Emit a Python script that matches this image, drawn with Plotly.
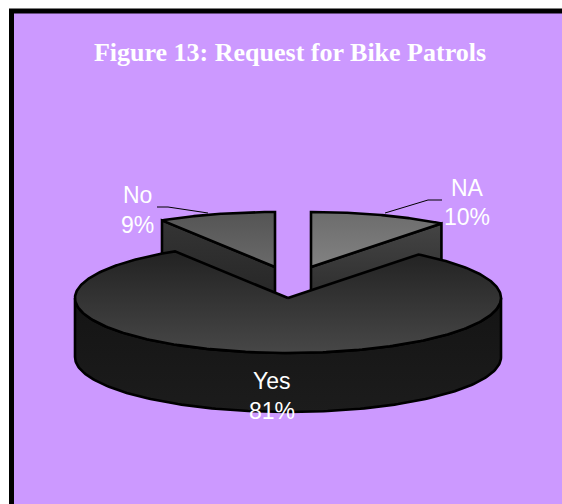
import numpy as np
import plotly.graph_objects as go

# Data
categories = ["NA", "Yes", "No"]
values = [10.49, 80.61, 8.9]

# Figure / pie projection settings (pixels)
W, H = 562, 504
CX, CY, RX, RY, DEPTH = 288, 298, 213, 55, 59
offsets = {"NA": (23, -31), "Yes": (0, 0), "No": (-13, -31)}
top_colors = {"NA": ("#828282", "#6c6c6c"), "Yes": ("#474747", "#222222"), "No": ("#6a6a6a", "#545454")}
side_colors = {"NA": ("#262626", "#444444"), "No": ("#222222", "#343434")}
label_pos = {"NA": (467, 188, 217), "Yes": (272, 381, 411), "No": (137, 195, 225)}
BG = "#CC99FF"
LW = 2.6

total = sum(values)
edges = np.cumsum([0] + values) / total * 2 * np.pi
span = {c: (edges[i], edges[i + 1]) for i, c in enumerate(categories)}


def arc(cat, a, b, drop=0, n=160):
    dx, dy = offsets[cat]
    t = np.linspace(a, b, n)
    return CX + dx + RX * np.sin(t), CY + dy + drop - RY * np.cos(t)


def grad(c0, c1):
    return dict(type="vertical", colorscale=[[0, c0], [1, c1]])


def poly(fig, x, y, colors):
    fig.add_trace(go.Scatter(
        x=list(x) + [x[0]], y=list(y) + [y[0]], mode="lines", fill="toself",
        fillgradient=grad(*colors), line=dict(color="black", width=LW, shape="linear"),
        hoverinfo="skip", showlegend=False))


fig = go.Figure()

# Draw back (exploded) slices first, then the large slice
for cat in ["No", "NA"]:
    a, b = span[cat]
    dx, dy = offsets[cat]
    ax, ay = CX + dx, CY + dy
    corner = a if cat == "No" else b
    cxp = ax + RX * np.sin(corner)
    cyp = ay - RY * np.cos(corner)
    poly(fig, [ax, cxp, cxp, ax], [ay, cyp, cyp + DEPTH, ay + DEPTH], side_colors[cat])
    ex, ey = arc(cat, a, b)
    poly(fig, [ax] + list(ex), [ay] + list(ey), top_colors[cat])

a, b = span["Yes"]
# rim of the large slice, front half only
sx, sy = arc("Yes", np.pi / 2, 3 * np.pi / 2)
bx, by = arc("Yes", np.pi / 2, 3 * np.pi / 2, drop=DEPTH)
poly(fig, list(sx) + list(bx[::-1]), list(sy) + list(by[::-1]), ("#1c1c1c", "#141414"))
ex, ey = arc("Yes", a, b, n=320)
poly(fig, [CX] + list(ex), [CY] + list(ey), top_colors["Yes"])

# Leader lines
for lx, ly in [([157, 168, 208], [207, 207, 213]), ([442, 428, 385], [200, 200, 213])]:
    fig.add_trace(go.Scatter(x=lx, y=ly, mode="lines", line=dict(color="black", width=1),
                             hoverinfo="skip", showlegend=False))

# Labels
annotations = []
for cat, val in zip(categories, values):
    lx, y1, y2 = label_pos[cat]
    for txt, yy in [(cat, y1), (f"{val / total * 100:.0f}%", y2)]:
        annotations.append(dict(x=lx, y=yy, text=txt, showarrow=False, xref="x", yref="y",
                                xanchor="center", yanchor="middle",
                                font=dict(family="Liberation Sans", size=23, color="white")))

fig.update_layout(
    width=W, height=H, autosize=False,
    margin=dict(l=0, r=0, t=0, b=0),
    paper_bgcolor="white", plot_bgcolor="white",
    xaxis=dict(range=[0, W], visible=False, fixedrange=True),
    yaxis=dict(range=[H, 0], visible=False, fixedrange=True),
    title=dict(text="<b>Figure 13: Request for Bike Patrols</b>", x=290 / W, y=1 - 52 / H,
               xanchor="center", yanchor="middle",
               font=dict(family="Liberation Serif", size=26, color="white")),
    annotations=annotations,
    shapes=[dict(type="rect", xref="x", yref="y", x0=11.5, y0=11, x1=W + 10, y1=H + 10,
                 fillcolor=BG, line=dict(color="black", width=5), layer="below")],
)
fig.write_html("out.html", config=dict(displayModeBar=False),
               post_script="document.body.style.margin='0';document.body.style.overflow='hidden';")
